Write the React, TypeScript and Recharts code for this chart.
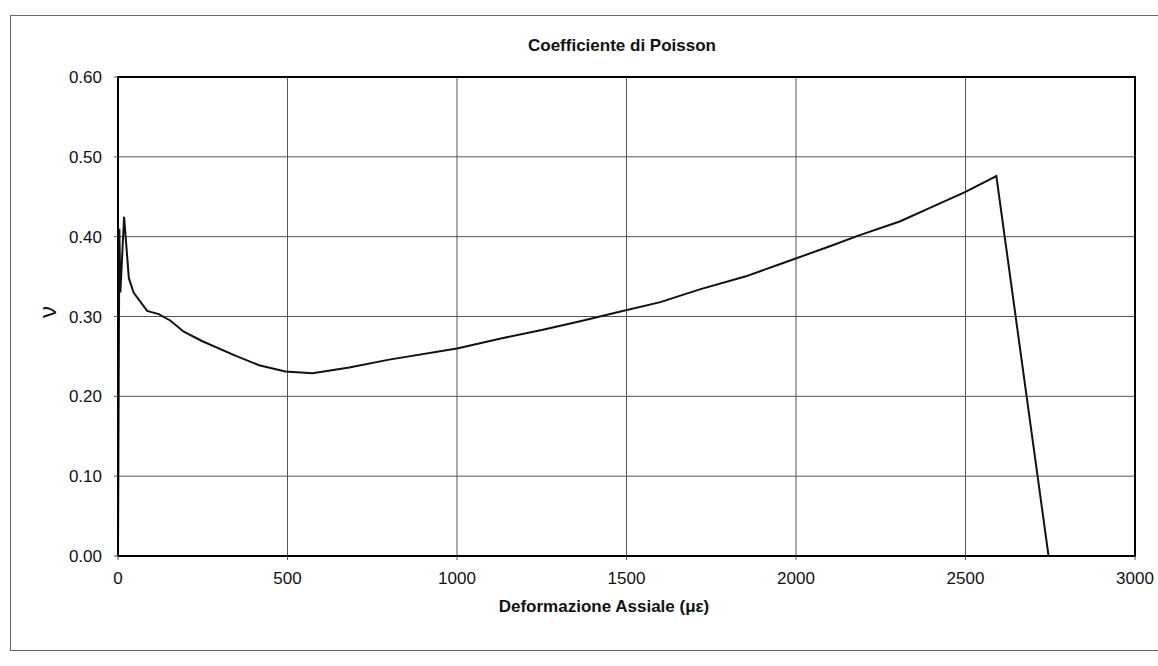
import { LineChart, Line, XAxis, YAxis, CartesianGrid, ReferenceArea } from 'recharts';

// Deformazione assiale (µε) e coefficiente di Poisson
const strain = [
  0, 4, 7, 18, 32, 46, 86, 120, 154, 194, 249, 346, 416, 494, 574, 682, 800,
  1000, 1136, 1250, 1373, 1470, 1600, 1716, 1850, 1962, 2100, 2188, 2306, 2400,
  2500, 2591, 2745,
];
const poisson = [
  0, 0.41, 0.33, 0.425, 0.348, 0.33, 0.307, 0.303, 0.295, 0.281, 0.269, 0.251,
  0.239, 0.231, 0.229, 0.236, 0.246, 0.26, 0.273, 0.283, 0.295, 0.305, 0.318,
  0.334, 0.35, 0.367, 0.388, 0.402, 0.419, 0.437, 0.456, 0.476, 0,
];
const xTicks = [0, 500, 1000, 1500, 2000, 2500, 3000];
const yTicks = [0, 0.1, 0.2, 0.3, 0.4, 0.5, 0.6];

const data = strain.map((x, i) => ({ x, v: poisson[i] }));

const font = '"Liberation Sans", Arial, sans-serif';

export default function App() {
  return (
    <div style={{ position: 'absolute', left: 0, top: 0, width: 1158, height: 666, background: '#fff', fontFamily: font }}>
      {/* cornice dell'area grafico */}
      <div
        style={{
          position: 'absolute',
          left: 10,
          top: 15,
          width: 1160,
          height: 634,
          border: '1px solid #666',
        }}
      />
      <div
        style={{
          position: 'absolute',
          left: 0,
          width: 1244,
          top: 36,
          textAlign: 'center',
          fontSize: 17,
          fontWeight: 'bold',
          color: '#111',
        }}
      >
        Coefficiente di Poisson
      </div>
      <div
        style={{
          position: 'absolute',
          left: 0,
          width: 1208,
          top: 597,
          textAlign: 'center',
          fontSize: 17,
          fontWeight: 'bold',
          color: '#111',
        }}
      >
        Deformazione Assiale (με)
      </div>
      <div
        style={{
          position: 'absolute',
          left: 36,
          top: 298,
          width: 24,
          height: 28,
          lineHeight: '28px',
          textAlign: 'center',
          fontSize: 24,
          color: '#111',
          transform: 'rotate(-90deg)',
        }}
      >
        ν
      </div>
      <div style={{ position: 'absolute', left: 0, top: 0 }}>
        <LineChart width={1158} height={666} data={data} margin={{ top: 77, right: 23, left: 0, bottom: 0 }}>
          <CartesianGrid stroke="#555" strokeWidth={1} />
          <XAxis
            dataKey="x"
            type="number"
            domain={[0, 3000]}
            ticks={xTicks}
            height={110}
            axisLine={{ stroke: '#000', strokeWidth: 2 }}
            tickLine={{ stroke: '#555' }}
            tickSize={4}
            tickMargin={12}
            tick={{ fill: '#111', fontSize: 17, fontFamily: font }}
          />
          <YAxis
            type="number"
            domain={[0, 0.6]}
            ticks={yTicks}
            width={118}
            axisLine={{ stroke: '#000', strokeWidth: 2 }}
            tickLine={{ stroke: '#555' }}
            tickSize={4}
            tickMargin={12}
            tickFormatter={(t: number) => t.toFixed(2)}
            tick={{ fill: '#111', fontSize: 17, fontFamily: font }}
          />
          <ReferenceArea x1={0} x2={3000} y1={0} y2={0.6} fill="none" stroke="#000" strokeWidth={2} ifOverflow="visible" />
          <Line type="linear" dataKey="v" stroke="#111" strokeWidth={2} dot={false} isAnimationActive={false} />
        </LineChart>
      </div>
    </div>
  );
}
